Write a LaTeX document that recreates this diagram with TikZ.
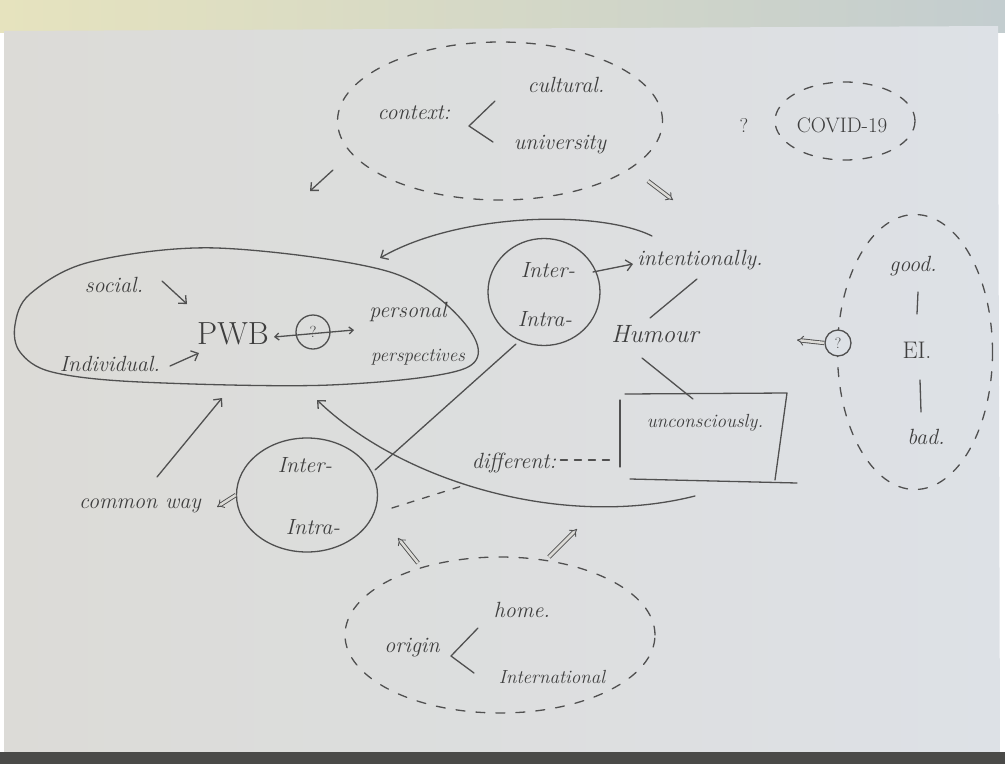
\documentclass[tikz,border=0pt]{standalone}
\usepackage{fontspec}
\usetikzlibrary{arrows.meta,shapes.geometric,calc}
\definecolor{ink}{HTML}{3E3E3E}
\definecolor{pencil}{HTML}{505050}
\definecolor{wallL}{HTML}{E6E3BE}
\definecolor{wallR}{HTML}{C3CDCF}
\definecolor{paperL}{HTML}{DCDBD7}
\definecolor{paperR}{HTML}{DDE1E6}
\definecolor{rim}{HTML}{4A4A48}
\tikzset{
  hand/.style={font=\fontsize{22}{24}\selectfont\itshape, text=ink, inner sep=1pt},
  smallhand/.style={hand, font=\fontsize{19}{21}\selectfont\itshape},
  bighand/.style={font=\fontsize{32}{34}\selectfont, text=ink, inner sep=1pt},
  pen/.style={draw=pencil, line width=1.3pt, line cap=round, line join=round},
  dashcloud/.style={pen, ellipse, dash pattern=on 9pt off 11pt, inner sep=0pt},
  ring/.style={pen, ellipse, inner sep=0pt},
  barb/.style={pen, -{Straight Barb[length=6pt,width=11pt]}},
  dbl/.style={draw=pencil, line width=0.9pt, double=paperL, double distance=2.5pt, -{Implies[length=6pt]}},
}
\begin{document}
\begin{tikzpicture}[x=1pt,y=-1pt]
\useasboundingbox (0,0) rectangle (1005,764);
% wall behind the sheet and the sheet itself
\shade[left color=wallL, right color=wallR] (0,0) rectangle (1005,32);
\shade[left color=paperL, right color=paperR] (4,31) -- (998,26) -- (1000,752) -- (4,752) -- cycle;
\fill[rim] (0,752) rectangle (1005,764);

% ---- context cloud ----
\node[dashcloud, minimum width=325, minimum height=158] (ctxcloud) at (500,121) {};
\node[hand] (context) at (414,113) {context:};
\node[hand] (cultural) at (566,85) {cultural.};
\node[hand] (university) at (560,145) {university};
\coordinate (ctxtop) at (495,101);
\coordinate (ctxfork) at (469,126);
\coordinate (ctxbot) at (493,142);
\draw[pen] (ctxtop) -- (ctxfork) -- (ctxbot);
\coordinate (ctxLa) at (333,170);
\coordinate (ctxLb) at (310,191);
\draw[barb] (ctxLa) -- (ctxLb);
\coordinate (ctxRa) at (648,181);
\coordinate (ctxRb) at (673,200);
\draw[dbl] (ctxRa) -- (ctxRb);

% ---- COVID-19 ----
\node[hand, font=\fontsize{20}{22}\selectfont] (q1) at (744,125) {?};
\node[dashcloud, minimum width=140, minimum height=78] (covid) at (845,121) {};
\node[hand, font=\fontsize{21}{23}\selectfont] (covidtxt) at (842,125) {COVID-19};

% ---- PWB: loosely drawn closed outline ----
\draw[pen] plot[smooth cycle, tension=0.55] coordinates {
  (30,294) (90,262) (217,248) (390,272) (466,325) (466,368)
  (330,385) (140,382) (52,372) (20,352) (15,325)};
\node[hand] (social) at (114,285) {social.};
\node[hand] (individual) at (110,364) {Individual.};
\node[bighand] (pwb) at (233,334) {PWB};
\node[pen, circle, minimum size=34, inner sep=0pt, font=\fontsize{16}{18}\selectfont, text=ink] (qpwb) at (313,332) {?};
\node[hand] (personal) at (408,312) {personal};
\node[hand, font=\fontsize{19}{21}\selectfont\itshape] (perspectives) at (418,357) {perspectives};
\coordinate (socA) at (162,281);
\coordinate (socB) at (187,304);
\draw[barb] (socA) -- (socB);
\coordinate (indA) at (170,366);
\coordinate (indB) at (199,353);
\draw[barb] (indA) -- (indB);
\coordinate (pqA) at (274,337);
\coordinate (pqB) at (354,330);
\draw[pen, {Straight Barb[length=4pt,width=7pt]}-{Straight Barb[length=4pt,width=7pt]}] (pqA) -- (pqB);

% ---- upper Inter/Intra ----
\node[ring, minimum width=112, minimum height=107] (upper) at (544,292) {};
\node[hand] (uInter) at (548,270) {Inter-};
\node[hand] (uIntra) at (545,319) {Intra-};
\node[hand] (intent) at (700,260) {intentionally.};
\node[hand, font=\fontsize{25}{27}\selectfont\itshape] (humour) at (655,334) {Humour};
\coordinate (uA) at (593,272);
\coordinate (uB) at (633,264);
\draw[barb] (uA) -- (uB);
\coordinate (arcA) at (652,236);
\coordinate (arcB) at (380,258);
\draw[barb] (arcA) .. controls (600,210) and (460,212) .. (arcB);
\coordinate (intL) at (697,279);
\coordinate (humT) at (650,318);
\draw[pen] (intL) -- (humT);
\coordinate (humB) at (642,358);
\coordinate (boxT) at (693,399);
\draw[pen] (humB) -- (boxT);

% ---- unconsciously box ----
\node[smallhand] (uncon) at (705,423) {unconsciously.};
\coordinate (bx1) at (625,394);
\coordinate (bx2) at (787,393);
\coordinate (bx3) at (775,480);
\coordinate (bx4) at (620,400);
\coordinate (bx5) at (620,467);
\coordinate (bx6) at (630,479);
\coordinate (bx7) at (797,483);
\draw[pen] (bx1) -- (bx2) -- (bx3);
\draw[pen] (bx4) -- (bx5);
\draw[pen] (bx6) -- (bx7);
\node[hand] (different) at (514,463) {different:};
\coordinate (dfB) at (614,460);
\draw[pen, dash pattern=on 7pt off 7pt] ([xshift=3pt,yshift=3pt]different.east) -- (dfB);

% ---- lower Inter/Intra ----
\node[ring, minimum width=141, minimum height=114] (lower) at (307,495) {};
\node[hand] (lInter) at (305,465) {Inter-};
\node[hand] (lIntra) at (313,527) {Intra-};
\coordinate (lnA) at (516,344);
\coordinate (lnB) at (375,470);
\draw[pen] (lnA) -- (lnB);
\coordinate (dsA) at (392,508);
\coordinate (dsB) at (462,486);
\draw[pen, dash pattern=on 7pt off 9pt] (dsA) -- (dsB);
\coordinate (bigA) at (695,496);
\coordinate (bigB) at (317,400);
\draw[barb] (bigA) .. controls (560,530) and (400,480) .. (bigB);
\node[hand] (common) at (140,506) {common way};
\coordinate (cwA) at (217,507);
\draw[dbl] (lower.west) -- (cwA);
\coordinate (cwB) at (157,477);
\coordinate (cwC) at (222,398);
\draw[barb] (cwB) -- (cwC);

% ---- origin cloud ----
\node[dashcloud, minimum width=310, minimum height=156] (origcloud) at (500,635) {};
\node[hand] (origin) at (412,648) {origin};
\node[hand] (home) at (522,610) {home.};
\node[smallhand] (intl) at (552,677) {International};
\coordinate (orTop) at (478,628);
\coordinate (orFork) at (451,656);
\coordinate (orBot) at (474,673);
\draw[pen] (orTop) -- (orFork) -- (orBot);
\coordinate (oLa) at (418,563);
\coordinate (oLb) at (398,538);
\draw[dbl] (oLa) -- (oLb);
\coordinate (oRa) at (549,557);
\coordinate (oRb) at (577,529);
\draw[dbl] (oRa) -- (oRb);

% ---- EI cloud ----
\node[dashcloud, minimum width=155, minimum height=275] (eicloud) at (915,352) {};
\node[hand] (good) at (913,266) {good.};
\node[hand, font=\fontsize{24}{26}\selectfont] (ei) at (917,350) {EI.};
\node[hand] (bad) at (926,437) {bad.};
\coordinate (gA) at (918,292);
\coordinate (gB) at (917,314);
\draw[pen] (gA) -- (gB);
\coordinate (eA) at (920,380);
\coordinate (eB) at (921,412);
\draw[pen] (eA) -- (eB);
\node[pen, circle, minimum size=26, inner sep=0pt, fill=paperR, font=\fontsize{15}{17}\selectfont, text=ink] (qei) at (838,343) {?};
\coordinate (qeA) at (797,340);
\draw[dbl] (qei.west) -- (qeA);
\end{tikzpicture}
\end{document}
